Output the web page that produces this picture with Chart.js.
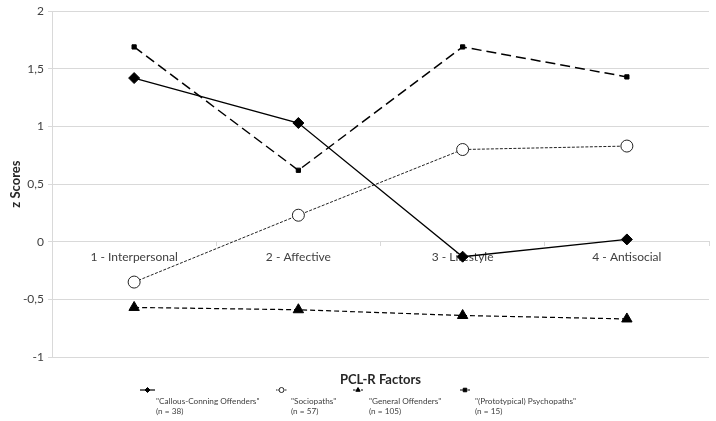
<!DOCTYPE html>
<html>
<head>
<meta charset="utf-8">
<script src="https://cdn.jsdelivr.net/npm/chart.js@4.4.1/dist/chart.umd.min.js"></script>
<style>
  html, body { margin: 0; padding: 0; background: #fff; }
</style>
</head>
<body>
<canvas id="chart" width="716" height="421"></canvas>
<script>
// PCL-R factor profiles per offender group (z scores)
const factors = ['1 - Interpersonal', '2 - Affective', '3 - Lifestyle', '4 - Antisocial'];
const callousConning = [1.42, 1.03, -0.13, 0.02];
const sociopaths = [-0.35, 0.23, 0.80, 0.83];
const generalOffenders = [-0.57, -0.59, -0.64, -0.67];
const psychopaths = [1.69, 0.62, 1.69, 1.43];
const groupNames = ['"Callous-Conning Offenders"', '"Sociopaths"', '"General Offenders"', '"(Prototypical) Psychopaths"'];
const groupSizes = ['(n = 38)', '(n = 57)', '(n = 105)', '(n = 15)'];

const FONT = 'Lato, "Liberation Sans", sans-serif';
const GRID = '#d9d9d9';

const datasets = [
  { data: callousConning, borderColor: '#000', backgroundColor: '#000', borderWidth: 1.3, borderDash: [],
    pointStyle: 'rectRot', pointRadius: 5.5, pointBackgroundColor: '#000', pointBorderColor: '#000', pointBorderWidth: 1 },
  { data: sociopaths, borderColor: '#222', backgroundColor: '#fff', borderWidth: 1, borderDash: [3, 1.5],
    pointStyle: 'circle', pointRadius: 6, pointBackgroundColor: '#fff', pointBorderColor: '#222', pointBorderWidth: 1 },
  { data: generalOffenders, borderColor: '#000', backgroundColor: '#000', borderWidth: 1.2, borderDash: [5, 3],
    pointStyle: 'triangle', pointRadius: 6, pointBackgroundColor: '#000', pointBorderColor: '#000', pointBorderWidth: 1 },
  { data: psychopaths, borderColor: '#000', backgroundColor: '#000', borderWidth: 1.5, borderDash: [10, 5],
    pointStyle: 'rect', pointRadius: 3, pointBackgroundColor: '#000', pointBorderColor: '#000', pointBorderWidth: 1 }
].map((d, i) => Object.assign({ label: groupNames[i], tension: 0, fill: false }, d));

// axis title under the chart + custom two-line legend
const extrasPlugin = {
  id: 'extras',
  afterDraw(chart) {
    const ctx = chart.ctx;
    const area = chart.chartArea;
    ctx.save();
    ctx.fillStyle = '#262626';
    ctx.font = 'bold 13px ' + FONT;
    ctx.textAlign = 'center';
    ctx.textBaseline = 'middle';
    ctx.fillText('PCL-R Factors', (area.left + area.right) / 2, 380);

    const lineX = [140, 276, 353, 460];
    const lineLen = [15, 11, 10, 10];
    const textX = [156, 291, 369, 475];
    lineX.forEach((x, i) => {
      const ds = chart.data.datasets[i];
      const y = 390;
      ctx.strokeStyle = ds.borderColor;
      ctx.lineWidth = 1.2;
      ctx.setLineDash(ds.borderDash.map(v => v * 0.5));
      ctx.beginPath();
      ctx.moveTo(x, y);
      ctx.lineTo(x + lineLen[i], y);
      ctx.stroke();
      ctx.setLineDash([]);
      ctx.fillStyle = ds.pointBackgroundColor;
      ctx.strokeStyle = ds.pointBorderColor;
      ctx.lineWidth = 1;
      Chart.helpers.drawPoint(ctx, { pointStyle: ds.pointStyle, radius: 2.5, rotation: 0, borderWidth: 1 }, x + lineLen[i] / 2, y);

      ctx.fillStyle = '#404040';
      ctx.font = '8.2px ' + FONT;
      ctx.textAlign = 'left';
      ctx.textBaseline = 'middle';
      ctx.fillText(groupNames[i], textX[i], 401);
      ctx.fillText(groupSizes[i], textX[i], 411);
    });
    ctx.restore();
  }
};

new Chart(document.getElementById('chart'), {
  type: 'line',
  data: { labels: factors, datasets: datasets },
  options: {
    responsive: false,
    animation: false,
    layout: { padding: { top: 10, right: 4, bottom: 64, left: 0 } },
    plugins: {
      legend: { display: false },
      tooltip: { enabled: false }
    },
    scales: {
      x: {
        type: 'category',
        position: { y: 0 },
        offset: true,
        grid: { display: true, drawOnChartArea: false, drawTicks: true, tickLength: 4, color: GRID, offset: true },
        border: { display: true, color: GRID, width: 1 },
        ticks: { color: '#404040', font: { family: FONT, size: 12 }, padding: 4, maxRotation: 0 }
      },
      y: {
        min: -1,
        max: 2,
        afterFit(scale) { scale.width = 52; },
        grid: { color: GRID, lineWidth: 1, tickLength: 4, drawTicks: true },
        border: { display: true, color: GRID },
        ticks: {
          stepSize: 0.5,
          color: '#404040',
          font: { family: FONT, size: 12 },
          padding: 4,
          callback: v => String(v).replace('.', ',')
        },
        title: { display: true, text: 'z Scores', color: '#262626', font: { family: FONT, size: 13, weight: 'bold' }, padding: { top: 8, bottom: 0 } }
      }
    }
  },
  plugins: [extrasPlugin]
});
</script>
</body>
</html>
